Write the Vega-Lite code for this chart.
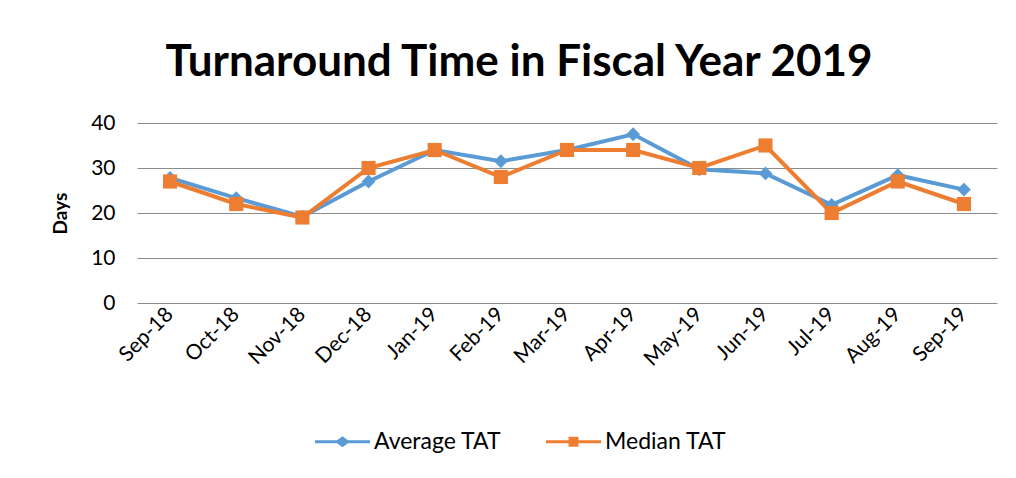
{
  "$schema": "https://vega.github.io/schema/vega-lite/v6.json",
  "width": 860,
  "height": 180,
  "autosize": {"type": "none"},
  "padding": {"left": 137, "top": 123, "right": 19, "bottom": 175},
  "background": "white",
  "title": {
    "text": "Turnaround Time in Fiscal Year 2019",
    "font": "Lato",
    "fontSize": 44,
    "fontWeight": "bold",
    "color": "#000000",
    "anchor": "middle",
    "dx": -48,
    "offset": 27
  },
  "config": {
    "view": {"stroke": null},
    "font": "Lato"
  },
  "data": {
    "values": [
      {"month": "Sep-18", "series": "Average TAT", "value": 27.8},
      {"month": "Oct-18", "series": "Average TAT", "value": 23.3},
      {"month": "Nov-18", "series": "Average TAT", "value": 19.2},
      {"month": "Dec-18", "series": "Average TAT", "value": 27},
      {"month": "Jan-19", "series": "Average TAT", "value": 34},
      {"month": "Feb-19", "series": "Average TAT", "value": 31.5},
      {"month": "Mar-19", "series": "Average TAT", "value": 34},
      {"month": "Apr-19", "series": "Average TAT", "value": 37.5},
      {"month": "May-19", "series": "Average TAT", "value": 29.7},
      {"month": "Jun-19", "series": "Average TAT", "value": 28.8},
      {"month": "Jul-19", "series": "Average TAT", "value": 21.8},
      {"month": "Aug-19", "series": "Average TAT", "value": 28.4},
      {"month": "Sep-19", "series": "Average TAT", "value": 25.2},
      {"month": "Sep-18", "series": "Median TAT", "value": 27},
      {"month": "Oct-18", "series": "Median TAT", "value": 22},
      {"month": "Nov-18", "series": "Median TAT", "value": 19},
      {"month": "Dec-18", "series": "Median TAT", "value": 30},
      {"month": "Jan-19", "series": "Median TAT", "value": 34},
      {"month": "Feb-19", "series": "Median TAT", "value": 28},
      {"month": "Mar-19", "series": "Median TAT", "value": 34},
      {"month": "Apr-19", "series": "Median TAT", "value": 34},
      {"month": "May-19", "series": "Median TAT", "value": 30},
      {"month": "Jun-19", "series": "Median TAT", "value": 35},
      {"month": "Jul-19", "series": "Median TAT", "value": 20},
      {"month": "Aug-19", "series": "Median TAT", "value": 27},
      {"month": "Sep-19", "series": "Median TAT", "value": 22}
    ]
  },
  "encoding": {
    "x": {
      "field": "month",
      "type": "ordinal",
      "sort": null,
      "scale": {"type": "band", "paddingInner": 0, "paddingOuter": 0},
      "axis": {
        "title": null,
        "labelAngle": -45,
        "labelAlign": "right",
        "labelBaseline": "middle",
        "labelFontSize": 21,
        "labelColor": "#000000",
        "labelPadding": 8,
        "ticks": false,
        "domain": false,
        "grid": false
      }
    },
    "y": {
      "field": "value",
      "type": "quantitative",
      "scale": {"domain": [0, 40], "nice": false},
      "axis": {
        "title": "Days",
        "titleFontSize": 19,
        "titleFontWeight": "bold",
        "titleColor": "#000000",
        "titlePadding": 20,
        "values": [0, 10, 20, 30, 40],
        "labelFontSize": 21,
        "labelColor": "#000000",
        "labelPadding": 22,
        "ticks": false,
        "domain": false,
        "grid": true,
        "gridColor": "#8c8c8c",
        "gridWidth": 1
      }
    },
    "color": {
      "field": "series",
      "type": "nominal",
      "scale": {"domain": ["Average TAT", "Median TAT"], "range": ["#5B9BD5", "#ED7D31"]},
      "legend": {
        "title": null,
        "orient": "none",
        "direction": "horizontal",
        "legendX": 178,
        "legendY": 291,
        "labelFontSize": 23,
        "labelColor": "#000000",
        "symbolSize": 3025,
        "symbolStrokeWidth": 0,
        "symbolType": "square",
        "labelOffset": 4,
        "columnPadding": 44,
        "encode": {
          "symbols": {
            "update": {
              "shape": {"signal": "datum.value === 'Average TAT' ? 'M-1,-0.055L-0.2,-0.055L0,-0.2L0.2,-0.055L1,-0.055L1,0.055L0.2,0.055L0,0.2L-0.2,0.055L-1,0.055Z' : 'M-1,-0.055L-0.18,-0.055L-0.18,-0.18L0.18,-0.18L0.18,-0.055L1,-0.055L1,0.055L0.18,0.055L0.18,0.18L-0.18,0.18L-0.18,0.055L-1,0.055Z'"},
              "fill": {"signal": "datum.value === 'Average TAT' ? '#5B9BD5' : '#ED7D31'"},
              "fillOpacity": {"value": 1},
              "strokeWidth": {"value": 0}
            }
          }
        }
      }
    }
  },
  "layer": [
    {
      "mark": {"type": "line", "strokeWidth": 4}
    },
    {
      "mark": {"type": "point", "filled": true, "opacity": 1},
      "encoding": {
        "shape": {
          "condition": {"test": "datum.series === 'Average TAT'", "value": "diamond"},
          "value": "square"
        },
        "size": {
          "condition": {"test": "datum.series === 'Average TAT'", "value": 190},
          "value": 200
        }
      }
    }
  ]
}
